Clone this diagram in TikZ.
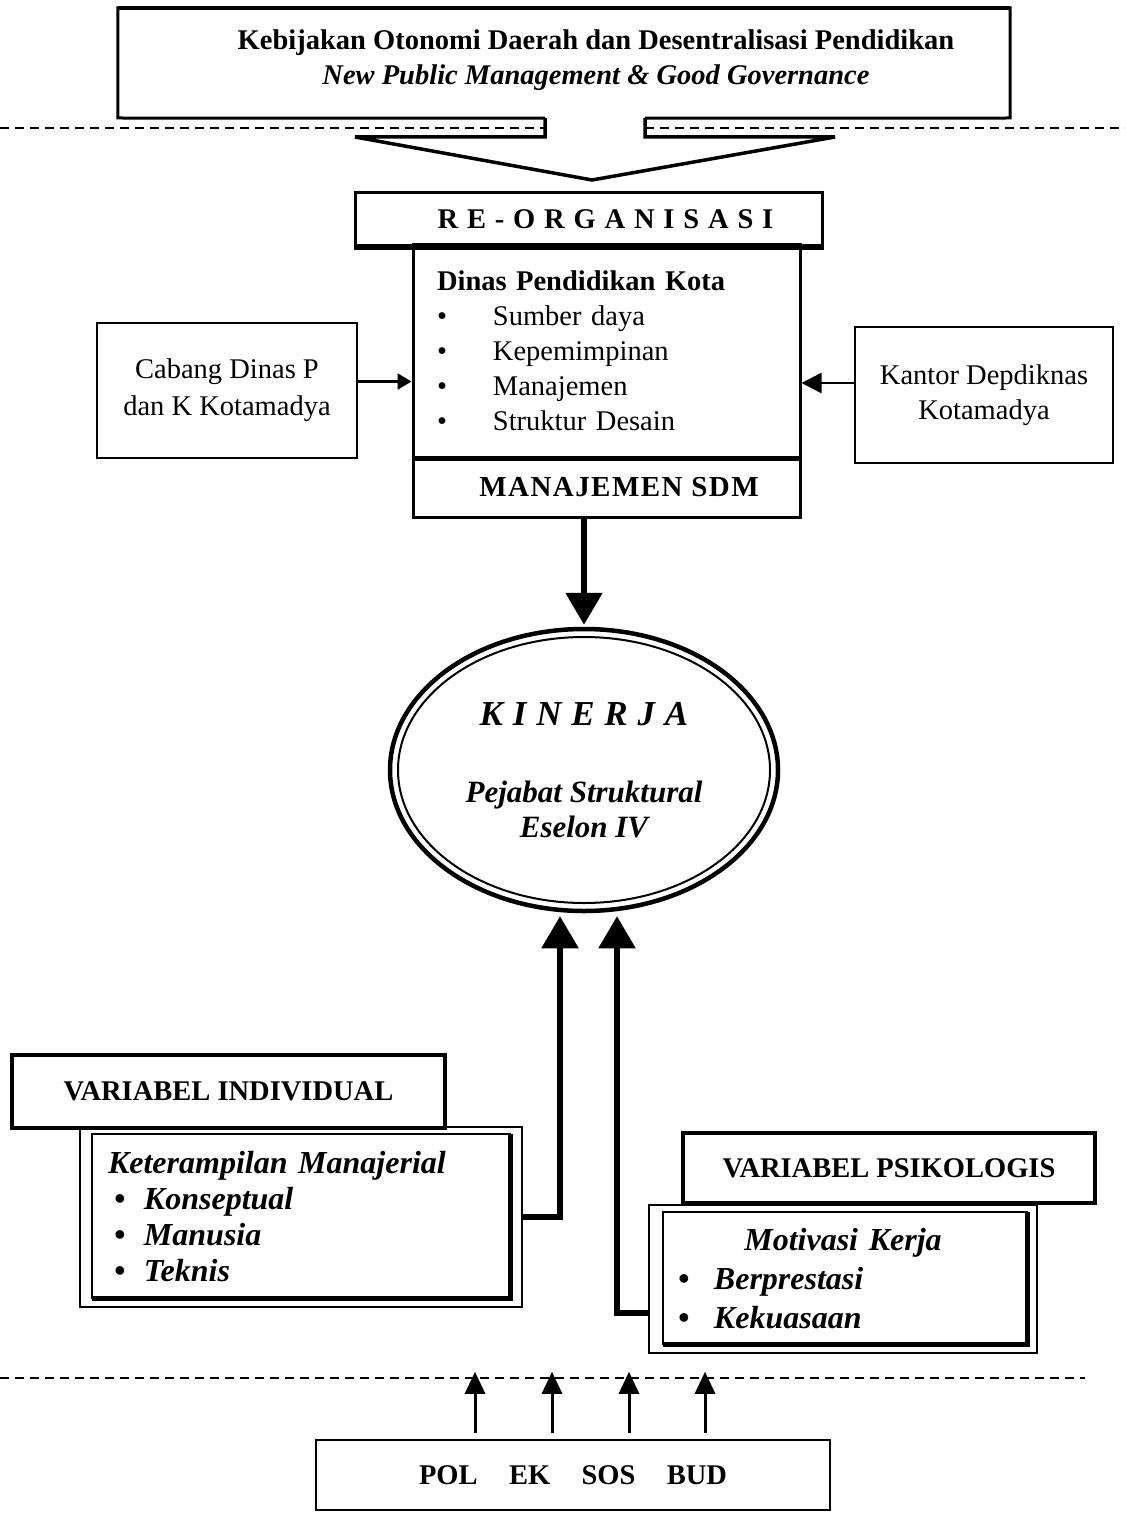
\documentclass[tikz,border=0pt]{standalone}
\usepackage{fontspec}
\setmainfont{Liberation Serif}
\usetikzlibrary{arrows.meta,shapes.geometric,calc}
\newcommand\fbase{\fontsize{28.5}{35}\selectfont}
\begin{document}
\begin{tikzpicture}[x=1pt,y=-1pt,
  box/.style={draw, line width=3pt, inner sep=0pt, font=\fbase},
  dashline/.style={line width=2.5pt, dash pattern=on 9pt off 6pt},
  bigarrow/.style={line width=5.5pt, line join=miter, -{Triangle[length=32pt,width=36pt]}},
  smallarrow/.style={line width=3pt, -{Triangle[length=22pt,width=20pt]}},
  sidearrow/.style={line width=2.5pt, -{Triangle[length=20pt,width=20pt]}}
]
\useasboundingbox[fill=white] (0,0) rectangle (1125,1514);

% top box
\node[draw=none, minimum width=892pt, minimum height=110pt, align=center, inner sep=0pt, font=\fbase\bfseries] (top) at (564,60)
  {\hspace*{64pt}Kebijakan Otonomi Daerah dan Desentralisasi Pendidikan\\\hspace*{64pt}\itshape New Public Management \& Good Governance};
\draw[line width=3pt] ($(top.south west)+(427,3)$) -- (top.south west|-0,118) -- (top.north west|-0,8) -- (top.north east|-0,8) -- (top.south east|-0,118) -- ($(top.south east)+(-365,3)$);
\draw[line width=4.5pt] (top.north west|-0,8) -- (top.north east|-0,8);

% dashed line top
\draw[dashline] (0,128) -- (545,128);
\draw[dashline] (645,128) -- (1125,128);

% chevron arrow
\draw[line width=3.5pt, line join=miter] (545,118) -- (545,137) -- (355,137) -- (592,180) -- (835,137) -- (645,137) -- (645,118);

% re-organisasi
\node[box, minimum width=467pt, minimum height=53pt, font=\fbase\bfseries\addfontfeatures{LetterSpace=31}] (reorg) at (588.5,219.5) {\hspace*{34pt}RE-ORGANISASI};
\draw[line width=5.5pt] (reorg.south west) -- (reorg.south east);

% dinas
\node[box, minimum width=387pt, minimum height=212pt, text width=339pt, inner xsep=24pt, align=left] (dinas) at (606.5,351)
  {\textbf{Dinas Pendidikan Kota}\\
   \makebox[56pt][l]{•}Sumber daya\\
   \makebox[56pt][l]{•}Kepemimpinan\\
   \makebox[56pt][l]{•}Manajemen\\
   \makebox[56pt][l]{•}Struktur Desain};
\node[box, minimum width=387pt, minimum height=60pt, font=\fontsize{29}{35}\selectfont\bfseries\addfontfeatures{LetterSpace=5}] (sdm) at (606.5,487) {\hspace*{25pt}MANAJEMEN SDM};
\draw[line width=5pt] (dinas.south west) -- (dinas.south east);

% side boxes
\node[box, line width=2.5pt, minimum width=260pt, minimum height=135pt, align=center, font=\fontsize{28.5}{37}\selectfont] (cabang) at (227,390.5) {Cabang Dinas P\\dan K Kotamadya};
\node[box, line width=2.5pt, minimum width=258pt, minimum height=136pt, align=center, font=\fontsize{28.5}{35}\selectfont] (kantor) at (984,395) {Kantor Depdiknas\\Kotamadya};

\coordinate (cabout) at ([yshift=9pt]cabang.east);
\draw[line width=2.5pt, -{Triangle[length=14pt,width=16pt]}] (cabout) -- (cabout -| dinas.west);
\coordinate (kanout) at ([yshift=12pt]kantor.west);
\draw[sidearrow] (kanout) -- (kanout -| dinas.east);

% ellipse
\node[ellipse, draw, line width=4.5pt, minimum width=388pt, minimum height=282pt, inner sep=0pt, align=center, font=\fontsize{31}{35}\selectfont\bfseries\itshape] (kin) at (584,770)
  {{\fontsize{35}{40}\selectfont\addfontfeatures{LetterSpace=28}KINERJA}\\[42pt]Pejabat Struktural\\Eselon IV};
\draw[line width=2pt] (kin.center) ellipse [x radius=186pt, y radius=133pt];

\draw[bigarrow, shorten >=2pt] (sdm.south -| kin.north) -- (kin.north);

% variabel individual
\node[box, line width=3.5pt, minimum width=433pt, minimum height=73pt, font=\fbase\bfseries] (vi) at (228.5,1091.5) {VARIABEL INDIVIDUAL};
\node[draw, line width=2pt, minimum width=442pt, minimum height=180pt, text width=386pt, inner xsep=28pt, inner ysep=0pt, align=left, font=\fontsize{32}{36}\selectfont\bfseries\itshape] (kt) at (301,1217)
  {Keterampilan Manajerial\\
   \hspace*{6pt}\makebox[30pt][l]{•}Konseptual\\
   \hspace*{6pt}\makebox[30pt][l]{•}Manusia\\
   \hspace*{6pt}\makebox[30pt][l]{•}Teknis};
\draw[line width=2.5pt] ([shift={(13pt,-8pt)}]kt.north west) rectangle ([shift={(-13pt,10pt)}]kt.south east);
\draw[line width=5pt] ([shift={(13pt,10pt)}]kt.south west) -- ([shift={(-13pt,10pt)}]kt.south east) -- ([shift={(-13pt,-8pt)}]kt.north east);

% variabel psikologis
\node[box, line width=3.5pt, minimum width=412pt, minimum height=70pt, font=\fbase\bfseries] (vp) at (889,1168) {VARIABEL PSIKOLOGIS};
\node[draw, line width=2pt, minimum width=388pt, minimum height=148pt, text width=330pt, inner xsep=29pt, inner ysep=0pt, align=left, font=\fontsize{32}{39}\selectfont\bfseries\itshape] (mk) at (843,1279)
  {\makebox[330pt]{Motivasi Kerja}\\
   \makebox[36pt][l]{•}Berprestasi\\
   \makebox[36pt][l]{•}Kekuasaan};
\draw[line width=2.5pt] ([shift={(15pt,-8pt)}]mk.north west) rectangle ([shift={(-11pt,10pt)}]mk.south east);
\draw[line width=5pt] ([shift={(15pt,10pt)}]mk.south west) -- ([shift={(-11pt,10pt)}]mk.south east) -- ([shift={(-11pt,-8pt)}]mk.north east);

% arrows into ellipse
\draw[bigarrow, shorten >=3pt] (kt.east) -| ([xshift=-24pt]kin.south);
\draw[bigarrow, shorten >=3pt] ([yshift=-34pt]mk.west) -| ([xshift=33pt]kin.south);

% bottom dashed line
\draw[dashline] (0,1378) -- (1085,1378);

% POL box
\node[box, line width=2.5pt, minimum width=514pt, minimum height=70pt, font=\fbase\bfseries] (pol) at (573,1475) {POL\hspace{1.1em}EK\hspace{1.1em}SOS\hspace{1.1em}BUD};
\foreach \dx/\n in {-98/1,-21/2,56/3,132/4}{
  \coordinate (env\n) at ($(pol.north)+(\dx,-67)$);
  \draw[smallarrow, shorten <=6pt] ([xshift=\dx pt]pol.north) -- (env\n);
}
\end{tikzpicture}
\end{document}
